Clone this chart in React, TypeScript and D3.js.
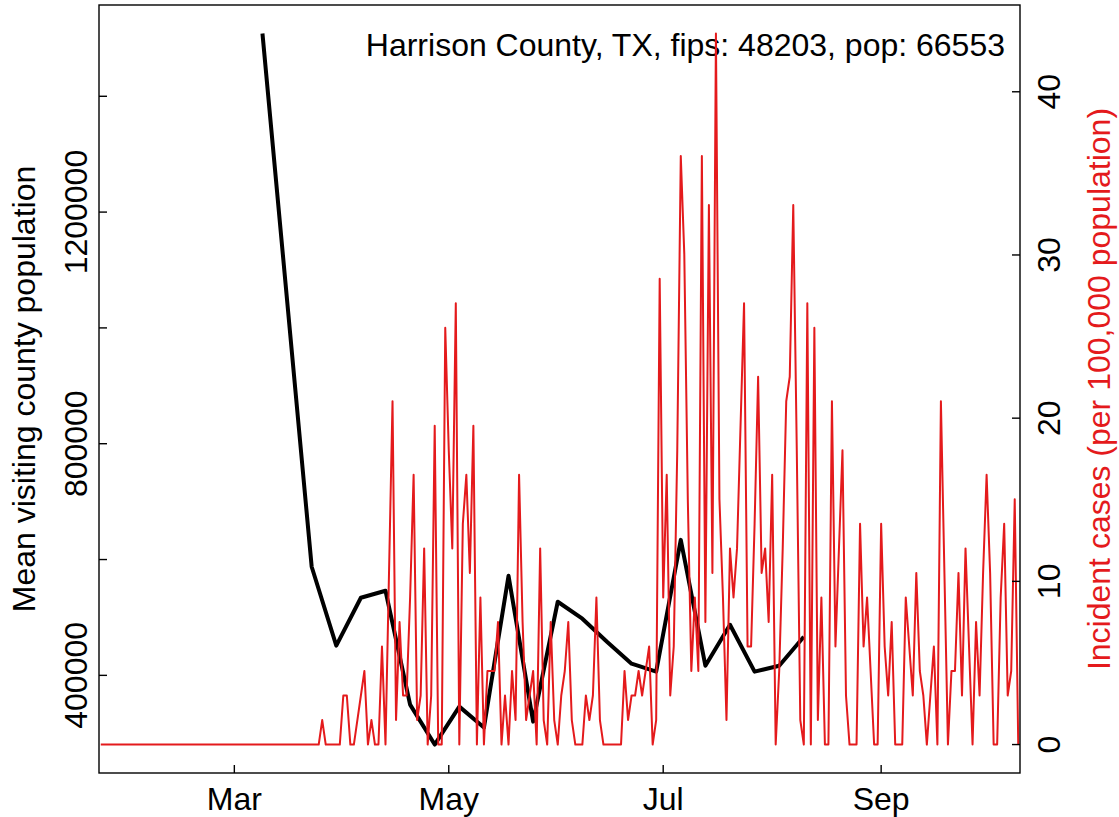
import React, { useRef, useEffect } from 'react';
import * as d3 from 'd3';

// county info
const population = 66553;
const title = 'Harrison County, TX, fips: 48203, pop: 66553';

// daily incident cases (raw counts), starting 2020-01-23
const caseStart = '2020-01-23';
const dailyCases = [
  0, 0, 0, 0, 0, 0, 0, 0, 0, 0,
  0, 0, 0, 0, 0, 0, 0, 0, 0, 0,
  0, 0, 0, 0, 0, 0, 0, 0, 0, 0,
  0, 0, 0, 0, 0, 0, 0, 0, 0, 0,
  0, 0, 0, 0, 0, 0, 0, 0, 0, 0,
  0, 0, 0, 0, 0, 0, 0, 0, 0, 0,
  0, 0, 0,
  1, 0, 0, 0, 0, 0, 2, 2, 0, 0,
  1, 2, 3, 0, 1, 0, 0, 4, 0, 7,
  14, 1, 5, 2, 2, 6, 11, 1, 2, 8,
  0, 2, 13, 0, 0, 17, 12, 8, 18, 0,
  9, 11, 7, 13, 0, 6, 0, 3, 3, 3,
  5, 0, 2, 0, 3, 1, 11, 5, 1, 2,
  3, 0, 8, 1, 0, 5, 1, 0, 2, 3,
  5, 1, 0, 0, 0, 2, 1, 2, 6, 1,
  0, 0, 0, 0, 0, 0, 3, 1, 2, 2,
  3, 2, 3, 4, 0, 1, 19, 6, 11, 2,
  4, 12, 24, 20, 10, 3, 6, 3, 24, 5,
  22, 7, 29, 10, 6, 1, 8, 6, 8, 13,
  18, 4, 4, 9, 15, 7, 8, 5, 11, 0,
  3, 8, 14, 15, 22, 12, 1, 0, 18, 0,
  17, 1, 6, 0, 0, 14, 4, 8, 12, 2,
  0, 0, 0, 9, 4, 6, 3, 0, 0, 9,
  4, 2, 5, 0, 0, 0, 6, 4, 2, 7,
  3, 2, 0, 2, 4, 0, 14, 7, 0, 3,
  3, 7, 2, 8, 4, 0, 5, 2, 7, 11,
  7, 0, 0, 6, 9, 2, 3, 10, 0,
];

// weekly mean visiting county population
const visitDates = [
  '2020-03-09', '2020-03-23', '2020-03-30', '2020-04-06', '2020-04-13',
  '2020-04-20', '2020-04-27', '2020-05-04', '2020-05-11', '2020-05-18',
  '2020-05-25', '2020-06-01', '2020-06-08', '2020-06-15', '2020-06-22',
  '2020-06-29', '2020-07-06', '2020-07-13', '2020-07-20', '2020-07-27',
  '2020-08-03', '2020-08-10',
];
const visitValues = [
  1508500, 587500, 451200, 534000, 546100,
  349500, 280500, 346000, 309800, 572000,
  320100, 527100, 497800, 458100, 420200,
  406400, 634000, 416700, 487400, 406400,
  416700, 466700,
];

// axis ticks
const monthTicks = ['2020-03-01', '2020-05-01', '2020-07-01', '2020-09-01'];
const monthLabels = ['Mar', 'May', 'Jul', 'Sep'];
const leftTicks = [400000, 600000, 800000, 1000000, 1200000, 1400000];
const leftLabels = ['400000', '', '800000', '', '1200000', ''];
const rightTicks = [0, 10, 20, 30, 40];

const RED = '#e41a1c';
const FONT = '"Liberation Sans", Arial, Helvetica, sans-serif';

function Chart() {
  const chartRef = useRef(null);

  useEffect(() => {
    const svg = d3.select(chartRef.current);
    svg.selectAll('*').remove();

    // plot box
    const box = { left: 99, right: 1020, top: 5, bottom: 773 };
    const tick = 8;
    const parse = d3.utcParse('%Y-%m-%d');

    const start = parse(caseStart);
    const caseData = dailyCases.map((c, i) => ({
      date: d3.utcDay.offset(start, i),
      value: (c * 100000) / population,
    }));
    const visitData = visitDates.map((d, i) => ({ date: parse(d), value: visitValues[i] }));

    const first = caseData[0].date;
    const last = caseData[caseData.length - 1].date;
    const xScale = d3
      .scaleUtc()
      .domain([d3.utcHour.offset(first, -12), d3.utcHour.offset(last, 12)])
      .range([box.left, box.right]);

    // R style 4% padding on the y ranges
    const [vMin, vMax] = d3.extent(visitValues);
    const vPad = (vMax - vMin) * 0.04;
    const yLeft = d3
      .scaleLinear()
      .domain([vMin - vPad, vMax + vPad])
      .range([box.bottom, box.top]);

    const cMax = d3.max(caseData, (d) => d.value);
    const yRight = d3
      .scaleLinear()
      .domain([-cMax * 0.04, cMax * 1.04])
      .range([box.bottom, box.top]);

    // title
    svg
      .append('text')
      .attr('x', 1005)
      .attr('y', 56)
      .attr('text-anchor', 'end')
      .attr('font-family', FONT)
      .attr('font-size', 32)
      .attr('fill', '#000')
      .text(title);

    // black line: visitors
    const visitLine = d3
      .line()
      .x((d) => xScale(d.date))
      .y((d) => yLeft(d.value));
    svg
      .append('path')
      .datum(visitData)
      .attr('d', visitLine)
      .attr('fill', 'none')
      .attr('stroke', '#000')
      .attr('stroke-width', 4)
      .attr('stroke-linejoin', 'round');

    // red line: incident cases
    const caseLine = d3
      .line()
      .x((d) => xScale(d.date))
      .y((d) => yRight(d.value));
    svg
      .append('path')
      .datum(caseData)
      .attr('d', caseLine)
      .attr('fill', 'none')
      .attr('stroke', RED)
      .attr('stroke-width', 2)
      .attr('stroke-linejoin', 'round');

    // frame
    svg
      .append('rect')
      .attr('x', box.left)
      .attr('y', box.top)
      .attr('width', box.right - box.left)
      .attr('height', box.bottom - box.top)
      .attr('fill', 'none')
      .attr('stroke', '#000')
      .attr('stroke-width', 1.4);

    // bottom axis (ticks point inward)
    const monthDates = monthTicks.map(parse);
    svg
      .append('g')
      .selectAll('line')
      .data(monthDates)
      .enter()
      .append('line')
      .attr('x1', (d) => xScale(d))
      .attr('x2', (d) => xScale(d))
      .attr('y1', box.bottom)
      .attr('y2', box.bottom - tick)
      .attr('stroke', '#000')
      .attr('stroke-width', 1.4);
    svg
      .append('g')
      .selectAll('text')
      .data(monthDates)
      .enter()
      .append('text')
      .attr('x', (d) => xScale(d))
      .attr('y', 810)
      .attr('text-anchor', 'middle')
      .attr('font-family', FONT)
      .attr('font-size', 32)
      .text((d, i) => monthLabels[i]);

    // left axis
    svg
      .append('g')
      .selectAll('line')
      .data(leftTicks)
      .enter()
      .append('line')
      .attr('x1', box.left)
      .attr('x2', box.left + tick)
      .attr('y1', (d) => yLeft(d))
      .attr('y2', (d) => yLeft(d))
      .attr('stroke', '#000')
      .attr('stroke-width', 1.4);
    svg
      .append('g')
      .selectAll('text')
      .data(leftTicks)
      .enter()
      .append('text')
      .attr('transform', (d) => `translate(87,${yLeft(d)}) rotate(-90)`)
      .attr('text-anchor', 'middle')
      .attr('font-family', FONT)
      .attr('font-size', 32)
      .text((d, i) => leftLabels[i]);
    svg
      .append('text')
      .attr('transform', `translate(35,${(box.top + box.bottom) / 2}) rotate(-90)`)
      .attr('text-anchor', 'middle')
      .attr('font-family', FONT)
      .attr('font-size', 32)
      .text('Mean visiting county population');

    // right axis
    svg
      .append('g')
      .selectAll('line')
      .data(rightTicks)
      .enter()
      .append('line')
      .attr('x1', box.right)
      .attr('x2', box.right - tick)
      .attr('y1', (d) => yRight(d))
      .attr('y2', (d) => yRight(d))
      .attr('stroke', '#000')
      .attr('stroke-width', 1.4);
    svg
      .append('g')
      .selectAll('text')
      .data(rightTicks)
      .enter()
      .append('text')
      .attr('transform', (d) => `translate(1060,${yRight(d)}) rotate(-90)`)
      .attr('text-anchor', 'middle')
      .attr('font-family', FONT)
      .attr('font-size', 32)
      .text((d) => d);
    svg
      .append('text')
      .attr('transform', `translate(1110,${(box.top + box.bottom) / 2}) rotate(-90)`)
      .attr('text-anchor', 'middle')
      .attr('font-family', FONT)
      .attr('font-size', 32)
      .attr('fill', RED)
      .text('Incident cases (per 100,000 population)');
  }, []);

  return (
    <svg
      ref={chartRef}
      width={1119}
      height={817}
      style={{ position: 'absolute', left: 0, top: 0, background: '#fff' }}
    ></svg>
  );
}

export default function App() {
  return <Chart />;
}
